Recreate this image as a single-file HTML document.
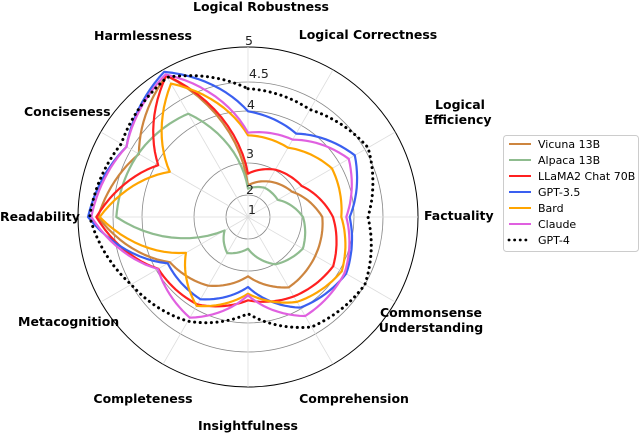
<!DOCTYPE html>
<html><head><meta charset="utf-8"><style>
html,body{margin:0;padding:0;background:#fff;width:640px;height:433px;overflow:hidden}
svg text{font-family:"DejaVu Sans","Liberation Sans",sans-serif}
.ax{font-weight:bold;font-size:12.5px;fill:#000}
.tk{font-size:12.5px;fill:#222}
.lg{font-size:11px;fill:#000}
</style></head><body>
<svg id="s" width="640" height="433" viewBox="0 0 640 433" xmlns="http://www.w3.org/2000/svg">
<g id="grid"></g>
<g id="series"></g>
<text class="tk" x="245" y="45">5</text>
<text class="tk" x="249" y="78">4.5</text>
<text class="tk" x="247" y="109">4</text>
<text class="tk" x="246" y="158">3</text>
<text class="tk" x="246" y="194">2</text>
<text class="tk" x="248" y="214">1</text>
<text class="ax" x="261" y="11" text-anchor="middle">Logical Robustness</text>
<text class="ax" x="368" y="39" text-anchor="middle">Logical Correctness</text>
<text class="ax" x="460" y="109" text-anchor="middle">Logical</text>
<text class="ax" x="458" y="124" text-anchor="middle">Efficiency</text>
<text class="ax" x="424" y="220">Factuality</text>
<text class="ax" x="431" y="317" text-anchor="middle">Commonsense</text>
<text class="ax" x="431" y="332" text-anchor="middle">Understanding</text>
<text class="ax" x="354" y="403" text-anchor="middle">Comprehension</text>
<text class="ax" x="248" y="430" text-anchor="middle">Insightfulness</text>
<text class="ax" x="143" y="403" text-anchor="middle">Completeness</text>
<text class="ax" x="18" y="326">Metacognition</text>
<text class="ax" x="0" y="221">Readability</text>
<text class="ax" x="24" y="116">Conciseness</text>
<text class="ax" x="143" y="40" text-anchor="middle">Harmlessness</text>
<rect x="503.5" y="135.5" width="135" height="116" rx="3" fill="#fff" stroke="#ccc"/>
<g id="leg"></g>
</svg>
<script>
var cx=248,cy=217,NS="http://www.w3.org/2000/svg";
function el(t,a,p){var e=document.createElementNS(NS,t);for(var k in a)e.setAttribute(k,a[k]);p.appendChild(e);return e}
var g=document.getElementById('grid');
[170,135,106,54,22].forEach(function(r,i){el('circle',{cx:cx,cy:cy,r:r,fill:'none',stroke:i==0?'#000':'#888','stroke-width':i==0?1:0.8},g)});
for(var i=0;i<12;i++){var a=i*Math.PI/6;el('line',{x1:cx,y1:cy,x2:cx+170*Math.cos(a),y2:cy-170*Math.sin(a),stroke:'#ddd','stroke-width':0.8},g)}
var angs=[90,60,30,0,-30,-60,-90,-120,-150,180,150,120];
var S=[
['#cd853f',[95,123,152,223,233,244,178,238,271,450,378,490],''],
['#8fbc8f',[85,101,103,165,190,164,95,125,81,395,380,358],''],
['#ff2020',[130,164,186,255,295,275,250,303,311,455,311,490],''],
['#3a5ff0',[317,289,370,305,340,314,210,285,278,480,421,503],''],
['#ffa500',[245,240,291,280,325,294,230,308,215,445,271,462],''],
['#e060e0',[253,268,349,295,335,343,235,349,312,470,421,494],''],
['#000',[385,372,416,360,405,381,290,361,405,475,439,484],'0.1 5.5']
];
var sg=document.getElementById('series');
S.forEach(function(s){var pts=[];for(var i=0;i<12;i++){var j=(i+1)%12,r0=s[1][i]/3,r1=s[1][j]/3,a0=angs[i],a1=angs[j];var d=a1-a0;if(d>180)d-=360;if(d<-180)d+=360;for(var k=0;k<12;k++){var t=k/12,r=r0+(r1-r0)*t,a=(a0+d*t)*Math.PI/180;pts.push((cx+r*Math.cos(a)).toFixed(1)+','+(cy-r*Math.sin(a)).toFixed(1))}}
var o={points:pts.join(' '),fill:'none',stroke:s[0],'stroke-width':s[2]?3:2.2,'stroke-linejoin':'round'};if(s[2]){o['stroke-dasharray']=s[2];o['stroke-linecap']='round'}el('polygon',o,sg)});
var names=['Vicuna 13B','Alpaca 13B','LLaMA2 Chat 70B','GPT-3.5','Bard','Claude','GPT-4'];
var lg=document.getElementById('leg');
names.forEach(function(n,i){var y=144+16*i;var o={x1:509,y1:y,x2:531,y2:y,stroke:S[i][0],'stroke-width':S[i][2]?2.8:2};if(S[i][2]){o['stroke-dasharray']='0.1 5.5';o['stroke-linecap']='round'}el('line',o,lg);var t=el('text',{x:538,y:y+4,'class':'lg'},lg);t.textContent=n});
</script>
</body></html>
